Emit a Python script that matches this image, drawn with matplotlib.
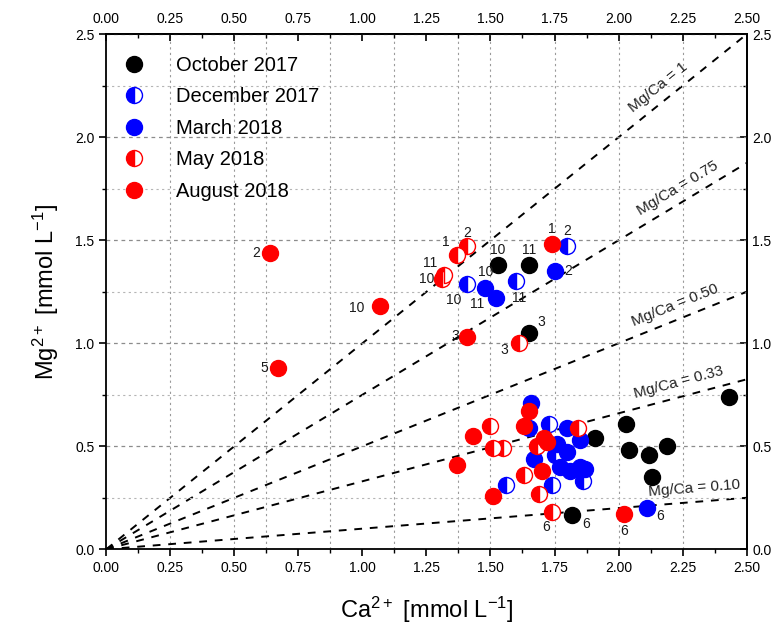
import numpy as np
import matplotlib
matplotlib.use("Agg")
import matplotlib.pyplot as plt
from matplotlib.ticker import MultipleLocator, FormatStrFormatter

plt.rcParams['font.family'] = ['Liberation Sans', 'DejaVu Sans']
plt.rcParams['mathtext.default'] = 'regular'

# -----------------------------
# DATOS  (Ca2+, Mg2+ en mmol/L)
# -----------------------------
oct_ca = [1.53, 1.65, 1.65, 1.91, 2.03, 2.04, 2.12, 2.19, 2.13, 2.43, 1.82]
oct_mg = [1.38, 1.38, 1.05, 0.54, 0.61, 0.48, 0.46, 0.50, 0.35, 0.74, 0.165]
oct_id = ['10', '11', '3', '', '', '', '', '', '', '', '6']

dec_ca = [1.80, 1.41, 1.60, 1.56, 1.74, 1.73, 1.86, 1.75]
dec_mg = [1.47, 1.29, 1.30, 0.31, 0.31, 0.61, 0.33, 0.46]
dec_id = ['2', '10', '11', '', '', '', '', '']

mar_ca = [1.75, 1.48, 1.52, 2.11, 1.66, 1.65, 1.67, 1.80, 1.76, 1.85, 1.80, 1.77, 1.81, 1.85, 1.87]
mar_mg = [1.35, 1.27, 1.22, 0.20, 0.71, 0.59, 0.44, 0.59, 0.51, 0.53, 0.47, 0.40, 0.38, 0.40, 0.39]
mar_id = ['2', '10', '11', '6', '', '', '', '', '', '', '', '', '', '', '']

may_ca = [1.37, 1.41, 1.61, 1.31, 1.32, 1.74, 1.50, 1.51, 1.55, 1.63, 1.69, 1.68, 1.84]
may_mg = [1.43, 1.47, 1.00, 1.31, 1.33, 0.18, 0.60, 0.49, 0.49, 0.36, 0.27, 0.50, 0.59]
may_id = ['1', '2', '3', '10', '11', '6', '', '', '', '', '', '', '']

aug_ca = [1.74, 0.64, 1.41, 0.67, 1.07, 2.02, 1.43, 1.37, 1.51, 1.65, 1.63, 1.71, 1.70, 1.72]
aug_mg = [1.48, 1.44, 1.03, 0.88, 1.18, 0.17, 0.55, 0.41, 0.26, 0.67, 0.60, 0.54, 0.38, 0.52]
aug_id = ['1', '2', '3', '5', '10', '6', '', '', '', '', '', '', '', '']

ratios = [1, 0.75, 0.50, 0.33, 0.10]
ratio_txt = ['Mg/Ca = 1', 'Mg/Ca = 0.75', 'Mg/Ca = 0.50', 'Mg/Ca = 0.33', 'Mg/Ca = 0.10']
ratio_txt_x = [2.19, 2.26, 2.24, 2.25, 2.30]

# (serie, nombre, color, relleno)
series = [
    ('oct', 'October 2017', 'black', 'full', oct_ca, oct_mg, oct_id),
    ('dec', 'December 2017', 'blue', 'left', dec_ca, dec_mg, dec_id),
    ('mar', 'March 2018', 'blue', 'full', mar_ca, mar_mg, mar_id),
    ('may', 'May 2018', 'red', 'left', may_ca, may_mg, may_id),
    ('aug', 'August 2018', 'red', 'full', aug_ca, aug_mg, aug_id),
]

# desplazamiento de las etiquetas de muestra (puntos)
offsets = {
    ('oct', '10'): (0, 11), ('oct', '11'): (0, 11), ('oct', '3'): (9, 8), ('oct', '6'): (10, -6),
    ('dec', '2'): (0, 11), ('dec', '10'): (-10, -12), ('dec', '11'): (2, -12),
    ('mar', '2'): (10, 0), ('mar', '10'): (0, 11), ('mar', '11'): (-13, -4), ('mar', '6'): (10, -6),
    ('may', '1'): (-8, 9), ('may', '2'): (0, 10), ('may', '3'): (-10, -5), ('may', '10'): (-11, 0),
    ('may', '11'): (-10, 9), ('may', '6'): (-4, -11),
    ('aug', '1'): (0, 11), ('aug', '2'): (-10, 0), ('aug', '3'): (-9, 1), ('aug', '5'): (-10, 0),
    ('aug', '10'): (-17, -1), ('aug', '6'): (0, -12),
}

x_grid = [0.25, 0.5, 0.625, 0.875, 1.125, 1.375, 1.5, 1.75, 2.0, 2.25]

# -----------------------------
# FIGURA
# -----------------------------
fig = plt.figure(figsize=(7.81, 6.35), dpi=100)
ax = fig.add_axes([0.136, 0.135, 0.820, 0.811])
ax.set_xlim(0, 2.5)
ax.set_ylim(0, 2.5)

for gx in x_grid:
    ax.axvline(gx, color='#9a9a9a', lw=0.8, ls=(0, (2, 3)), zorder=0)
ax.yaxis.set_major_locator(MultipleLocator(0.5))
ax.yaxis.set_minor_locator(MultipleLocator(0.25))
ax.grid(axis='y', which='major', color='#8c8c8c', lw=0.9, ls=(0, (3, 3)), zorder=0)
ax.grid(axis='y', which='minor', color='#b5b5b5', lw=0.8, ls=(0, (2, 3)), zorder=0)

# rectas Mg/Ca
fig.canvas.draw()
bb = ax.get_window_extent()
aspect = (bb.height / 2.5) / (bb.width / 2.5)
xr = np.array([0.0, 2.5])
for r, txt, tx in zip(ratios, ratio_txt, ratio_txt_x):
    ax.plot(xr, r * xr, color='black', lw=1.4, ls=(0, (4, 4)), zorder=1)
    ang = np.arctan(r * aspect)
    d = 10
    ax.annotate(txt, xy=(tx, r * tx), xytext=(-np.sin(ang) * d, np.cos(ang) * d),
                textcoords='offset points', ha='center', va='center',
                rotation=np.degrees(ang), rotation_mode='anchor',
                fontsize=11, color='#222222', zorder=2)

# puntos
for key, name, col, fill, ca, mg, ids in series:
    ax.plot(ca, mg, ls='none', marker='o', ms=11.5, color=col, mec=col,
            fillstyle=fill, markerfacecoloralt='white', mew=1.0, label=name, zorder=3)
    for x, y, s in zip(ca, mg, ids):
        if s:
            dx, dy = offsets[(key, s)]
            ax.annotate(s, xy=(x, y), xytext=(dx, dy), textcoords='offset points',
                        ha='center', va='center', fontsize=10, color='#1a1a1a', zorder=4)

# ejes
ax.xaxis.set_major_locator(MultipleLocator(0.25))
ax.xaxis.set_minor_locator(MultipleLocator(0.125))
ax.xaxis.set_major_formatter(FormatStrFormatter('%.2f'))
ax.yaxis.set_major_formatter(FormatStrFormatter('%.1f'))
ax.tick_params(which='major', direction='out', length=5, width=1.2, labelsize=10)
ax.tick_params(which='minor', direction='out', length=3, width=1.0)

top = ax.secondary_xaxis('top')
top.xaxis.set_major_locator(MultipleLocator(0.25))
top.xaxis.set_minor_locator(MultipleLocator(0.125))
top.xaxis.set_major_formatter(FormatStrFormatter('%.2f'))
top.tick_params(which='major', direction='in', length=5, width=1.2, labelsize=10, pad=6)
top.tick_params(which='minor', direction='in', length=3, width=1.0)

right = ax.secondary_yaxis('right')
right.yaxis.set_major_locator(MultipleLocator(0.5))
right.yaxis.set_minor_locator(MultipleLocator(0.25))
right.yaxis.set_major_formatter(FormatStrFormatter('%.1f'))
right.tick_params(which='major', direction='in', length=5, width=1.2, labelsize=10, pad=4)
right.tick_params(which='minor', direction='in', length=3, width=1.0)

for a in (ax, top, right):
    for sp in a.spines.values():
        sp.set_linewidth(1.3)

ax.set_xlabel('Ca$^{2+}$ [mmol L$^{-1}$]', fontsize=17, labelpad=14)
ax.set_ylabel('Mg$^{2+}$ [mmol L$^{-1}$]', fontsize=17, labelpad=10)

ax.legend(loc='upper left', bbox_to_anchor=(0.027, 0.958), frameon=False,
          fontsize=14.5, handlelength=1.0, handletextpad=1.6, labelspacing=0.62,
          borderpad=0, borderaxespad=0)

fig.savefig('out.png', dpi=100)
